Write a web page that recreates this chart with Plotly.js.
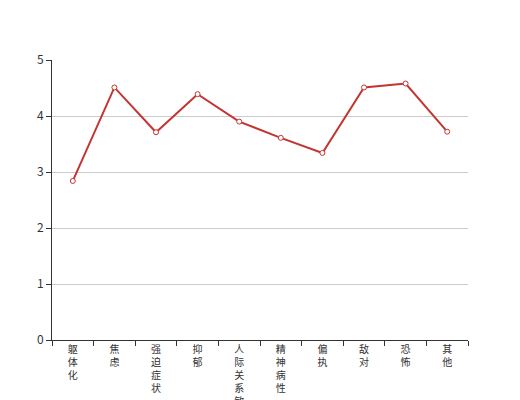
<!DOCTYPE html>
<html><head><meta charset="utf-8">
<script src="https://cdn.plot.ly/plotly-3.0.1.min.js"></script>
<style>html,body{margin:0;padding:0;background:#fff;overflow:hidden}#c{width:520px;height:400px}</style>
</head><body><div id="c"></div>
<script>
const categories = ['躯体化','焦虑','强迫症状','抑郁','人际关系敏感','精神病性','偏执','敌对','恐怖','其他'];
const values = [2.84, 4.51, 3.71, 4.39, 3.90, 3.61, 3.34, 4.51, 4.58, 3.72];
const yTicks = [0, 1, 2, 3, 4, 5];

const tickText = categories.map(c => c.split('').join('<br>'));

Plotly.newPlot('c', [{
  type: 'scatter', mode: 'lines+markers',
  x: categories, y: values,
  line: {color: '#c23531', width: 2},
  marker: {symbol: 'circle', size: 5, color: '#fff', line: {color: '#c23531', width: 1}},
  hoverinfo: 'none'
}], {
  width: 520, height: 400,
  margin: {l: 52, r: 52, t: 60, b: 60},
  paper_bgcolor: '#fff', plot_bgcolor: '#fff',
  showlegend: false,
  font: {family: '"Noto Sans CJK SC", "DejaVu Sans", sans-serif', color: '#333', size: 12},
  xaxis: {
    type: 'category', range: [-0.5, 9.5],
    tickmode: 'array', tickvals: categories, ticktext: tickText,
    tickson: 'boundaries', ticks: 'outside', ticklen: 5, tickcolor: '#333',
    showline: true, linecolor: '#333', linewidth: 1,
    showgrid: false, zeroline: false,
    tickfont: {size: 10, color: '#333'}, tickangle: 0
  },
  yaxis: {
    range: [0, 5], tickmode: 'array', tickvals: yTicks,
    ticks: 'outside', ticklen: 5, tickcolor: '#333',
    showline: true, linecolor: '#333', linewidth: 1,
    showgrid: true, gridcolor: '#ccc', zeroline: false,
    tickfont: {size: 12, color: '#333'}
  }
}, {staticPlot: true});
</script></body></html>
